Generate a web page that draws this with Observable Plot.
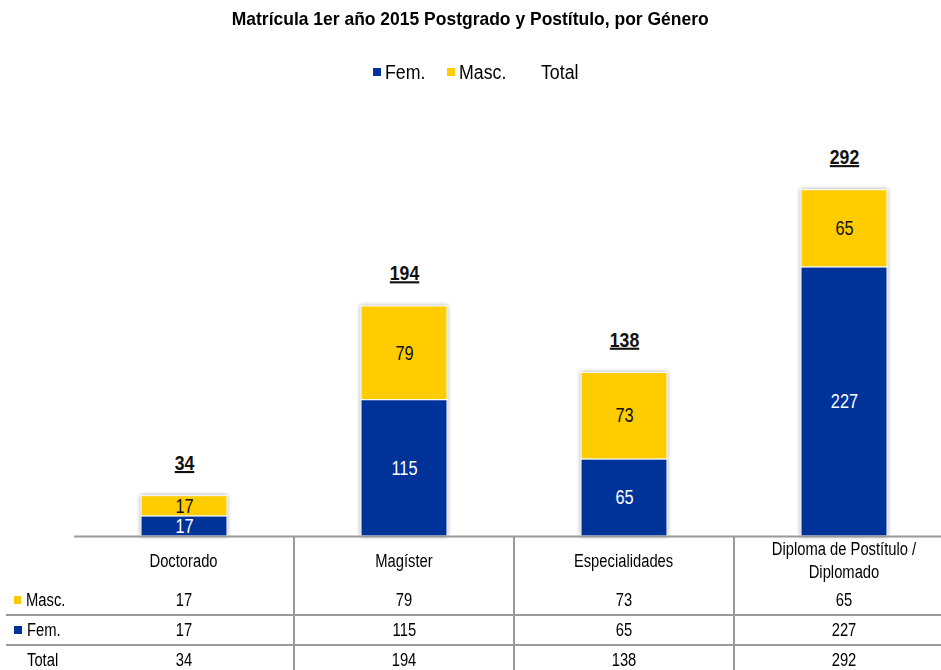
<!DOCTYPE html>
<html><head><meta charset="utf-8">
<script src="https://cdn.jsdelivr.net/npm/d3@7"></script>
<script src="https://cdn.jsdelivr.net/npm/@observablehq/plot@0.6"></script>
<style>
body{margin:0;width:941px;height:670px;overflow:hidden;background:#fff;font-family:"Liberation Sans",Arial,sans-serif;position:relative;color:#000}
.n{display:inline-block;white-space:nowrap}
#title{position:absolute;top:8px;left:0;width:941px;text-align:center;font-weight:bold;font-size:19px;line-height:22px}
#title .n{transform:scaleX(0.92)}
#legend{position:absolute;top:60px;left:5px;width:941px;display:flex;justify-content:center;gap:22px;font-size:19.5px;line-height:24px}
#legend .item{display:flex;align-items:center;gap:4px}
#legend .n{transform:scaleX(0.91);transform-origin:left center;margin-right:-4px}
.sw{display:inline-block;width:8px;height:8px}
#chart{position:absolute;top:100px;left:0}
#tbl{position:absolute;top:0;left:0;width:941px;height:670px;font-size:18px;pointer-events:none}
.cell{position:absolute;display:flex;align-items:center;justify-content:center;text-align:center;line-height:23px}
.cell .n{transform:scaleX(0.82);white-space:normal}
.cell.lab{justify-content:flex-start}
.cell.lab .n{transform-origin:left center}
.hl{position:absolute;height:2px;background:#9a9a9a}
.vl{position:absolute;width:2px;background:#9a9a9a}
</style></head>
<body>
<div id="title"><span class="n">Matrícula 1er año 2015 Postgrado y Postítulo, por Género</span></div>
<div id="legend"></div>
<div id="chart"></div>
<div id="tbl"></div>
<script>
const categories = ["Doctorado", "Magíster", "Especialidades", "Diploma de Postítulo / Diplomado"];
const series = ["Fem.", "Masc."];
const colors = ["#003399", "#FFCC00"];
const fem = [17, 115, 65, 227];
const masc = [17, 79, 73, 65];
const total = [34, 194, 138, 292];
const legendLabels = ["Fem.", "Masc.", "Total"];

const rows = [];
categories.forEach((c, i) => {
  rows.push({category: c, series: "Fem.", value: fem[i]});
  rows.push({category: c, series: "Masc.", value: masc[i]});
});
const totals = categories.map((c, i) => ({category: c, total: total[i]}));

// legend
const legend = d3.select("#legend");
legendLabels.forEach((l, i) => {
  const it = legend.append("div").attr("class", "item");
  it.append("span").attr("class", "sw").style("background", i < colors.length ? colors[i] : "transparent");
  it.append("span").attr("class", "n").text(l);
});

const plot = Plot.plot({
  width: 941, height: 438,
  marginLeft: 74, marginRight: 0, marginTop: 21, marginBottom: 2,
  x: {domain: categories, range: [74, 954], paddingInner: 0.61, paddingOuter: 0.305, axis: null},
  y: {domain: [0, 350], axis: null},
  color: {domain: series, range: colors},
  style: {fontFamily: "Liberation Sans, Arial, sans-serif", background: "transparent", overflow: "visible"},
  marks: [
    Plot.barY(rows, {x: "category", y: "value", fill: "series", stroke: "white", strokeWidth: 1}),
    Plot.text(rows, Plot.stackY({x: "category", y: "value", z: "series", text: "value",
      fill: {value: d => d.series === "Fem." ? "white" : "#111", scale: null}, fontSize: 19.5})),
    Plot.text(totals, {x: "category", y: "total", text: "total", dy: -33, fontWeight: "bold", fontSize: 21, fill: "#111"}),
    Plot.ruleY([0], {stroke: "#9a9a9a", strokeWidth: 2})
  ]
});
document.getElementById("chart").appendChild(plot);
d3.select(plot).select('g[aria-label="bar"]').style("filter", "drop-shadow(0 0 2px rgba(0,0,0,0.35))");
const textGroups = plot.querySelectorAll('g[aria-label="text"]');
d3.select(textGroups[textGroups.length - 1]).selectAll("text").style("text-decoration", "underline");
// condensed look: squeeze the chart's texts horizontally
plot.querySelectorAll('g[aria-label="text"] text').forEach(t => {
  const tr = t.getAttribute("transform") || "";
  t.setAttribute("transform", tr + " scale(0.84,1)");
});

// data table
const tbl = d3.select("#tbl");
const colLeft = i => 74 + 220 * i;
tbl.append("div").attr("class", "hl").style("left", "6px").style("width", "935px").style("top", "614px");
tbl.append("div").attr("class", "hl").style("left", "6px").style("width", "935px").style("top", "644px");
categories.forEach((c, i) => {
  if (i > 0) tbl.append("div").attr("class", "vl").style("left", (colLeft(i) - 1) + "px").style("top", "537px").style("height", "133px");
  tbl.append("div").attr("class", "cell")
    .style("left", colLeft(i) + "px").style("width", "220px").style("top", "537px").style("height", "48px")
    .append("span").attr("class", "n").style("max-width", "200px").text(c);
});
const tableRows = [
  {label: "Masc.", color: colors[1], values: masc, top: 585},
  {label: "Fem.", color: colors[0], values: fem, top: 615},
  {label: "Total", color: "transparent", values: total, top: 645}
];
tableRows.forEach(r => {
  const lab = tbl.append("div").attr("class", "cell lab")
    .style("left", "14px").style("width", "60px").style("top", r.top + "px").style("height", "30px");
  lab.append("span").attr("class", "sw").style("background", r.color).style("margin-right", "5px");
  lab.append("span").attr("class", "n").style("white-space", "nowrap").text(r.label);
  r.values.forEach((v, i) => {
    tbl.append("div").attr("class", "cell")
      .style("left", colLeft(i) + "px").style("width", "220px").style("top", r.top + "px").style("height", "30px")
      .append("span").attr("class", "n").text(v);
  });
});
</script>
</body></html>
